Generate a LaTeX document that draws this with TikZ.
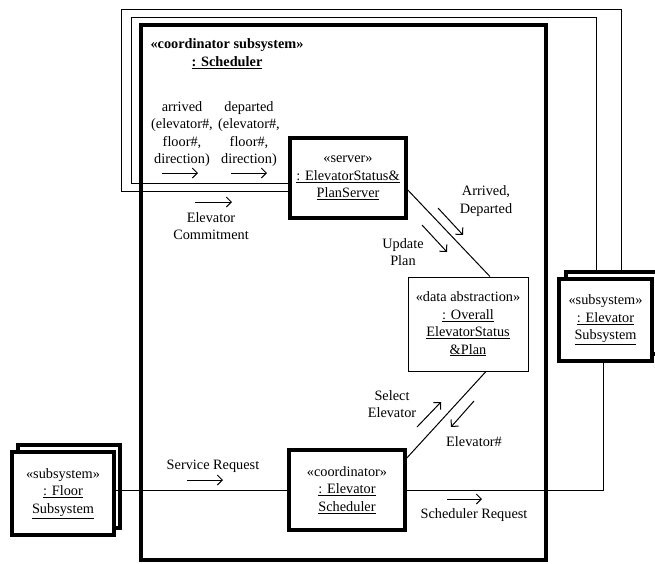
\documentclass[tikz,border=0pt]{standalone}
\usepackage{fontspec}
\setmainfont{Liberation Serif}
\usetikzlibrary{arrows.meta}

\begin{document}
\begin{tikzpicture}[x=1pt,y=-1pt,
  every node/.style={font=\fontsize{14.3}{17.5}\selectfont,align=center},
  heavybox/.style={draw,line width=3.6pt,fill=white,inner sep=0},
  lightbox/.style={draw,line width=0.9pt,fill=white,inner sep=0},
  link/.style={line width=1pt},
  msg/.style={line width=1pt,-{Straight Barb[length=5pt,width=10pt]}}]
\useasboundingbox (0,0) rectangle (655,563);

\node [heavybox,fill=none,minimum width=405,minimum height=535] (sched) at (343.5,292.5) {};
\node (schedname) at (227,53.5) {\textbf{«coordinator subsystem»}\\\textbf{\underline{: Scheduler}}};

\node [heavybox,minimum width=116,minimum height=80] (server) at (348,178)
  {«server»\\\underline{: ElevatorStatus\&}\\\underline{PlanServer}};
\node [lightbox,minimum width=120,minimum height=94] (plan) at (468,324)
  {«data abstraction»\\\underline{: Overall}\\\underline{ElevatorStatus}\\\underline{\&Plan}};
\node [heavybox,minimum width=116,minimum height=80] (elevsched) at (347,490)
  {«coordinator»\\\underline{: Elevator}\\\underline{Scheduler}};

\node [heavybox,minimum width=102,minimum height=83] (floorback) at (69,486.5) {};
\node [heavybox,minimum width=102,minimum height=83] (floor) at (63,493.5)
  {«subsystem»\\\underline{: Floor}\\\underline{Subsystem}};
\node [heavybox,minimum width=93,minimum height=82] (elevback) at (612.5,313) {};
\node [heavybox,minimum width=93,minimum height=82] (elev) at (605.5,320)
  {«subsystem»\\\underline{: Elevator}\\\underline{Subsystem}};

\coordinate (outercorner) at (121,9);
\coordinate (innercorner) at (131,17);
\draw [link] ([yshift=-13]server.west) -| (outercorner) -| ([xshift=8.5]elevback.north);
\draw [link] ([yshift=-5]server.west) -| (innercorner) -| ([xshift=-16.5]elevback.north);
\draw [link] ([yshift=-12]server.east) -- ([xshift=22]plan.north);
\draw [link] ([xshift=18]plan.south) -- ([yshift=32]elevsched.east);
\draw [link] (elevsched.west) -- (elevsched.west -| floor.east);
\draw [link] (elevsched.east) -| ([xshift=-2.5]elev.south);

\node (arr) at (182,134) {arrived\\(elevator\#,\\floor\#,\\direction)};
\node (dep) at (249,134) {departed\\(elevator\#,\\floor\#,\\direction)};
\node (commit) at (211,226) {Elevator\\Commitment};
\node (arrdep) at (486,201) {Arrived,\\Departed};
\node (update) at (403,252) {Update\\Plan};
\node (select) at (392,404) {Select\\Elevator};
\node (elevno) at (474,442) {Elevator\#};
\node (schedreq) at (474,515) {Scheduler Request};
\node (servreq) at (213,466) {Service Request};

\foreach \xa/\ya/\xb/\yb in {162/173/198/173, 231/173/267/173, 195/202/232/202,
  438/208/463/235, 422/225/447/252, 417/427/441/402, 474/401/451/427,
  447/499/482/499, 187/480/223/480}
  {\draw [msg] (\xa,\ya) -- (\xb,\yb);}
\end{tikzpicture}
\end{document}
